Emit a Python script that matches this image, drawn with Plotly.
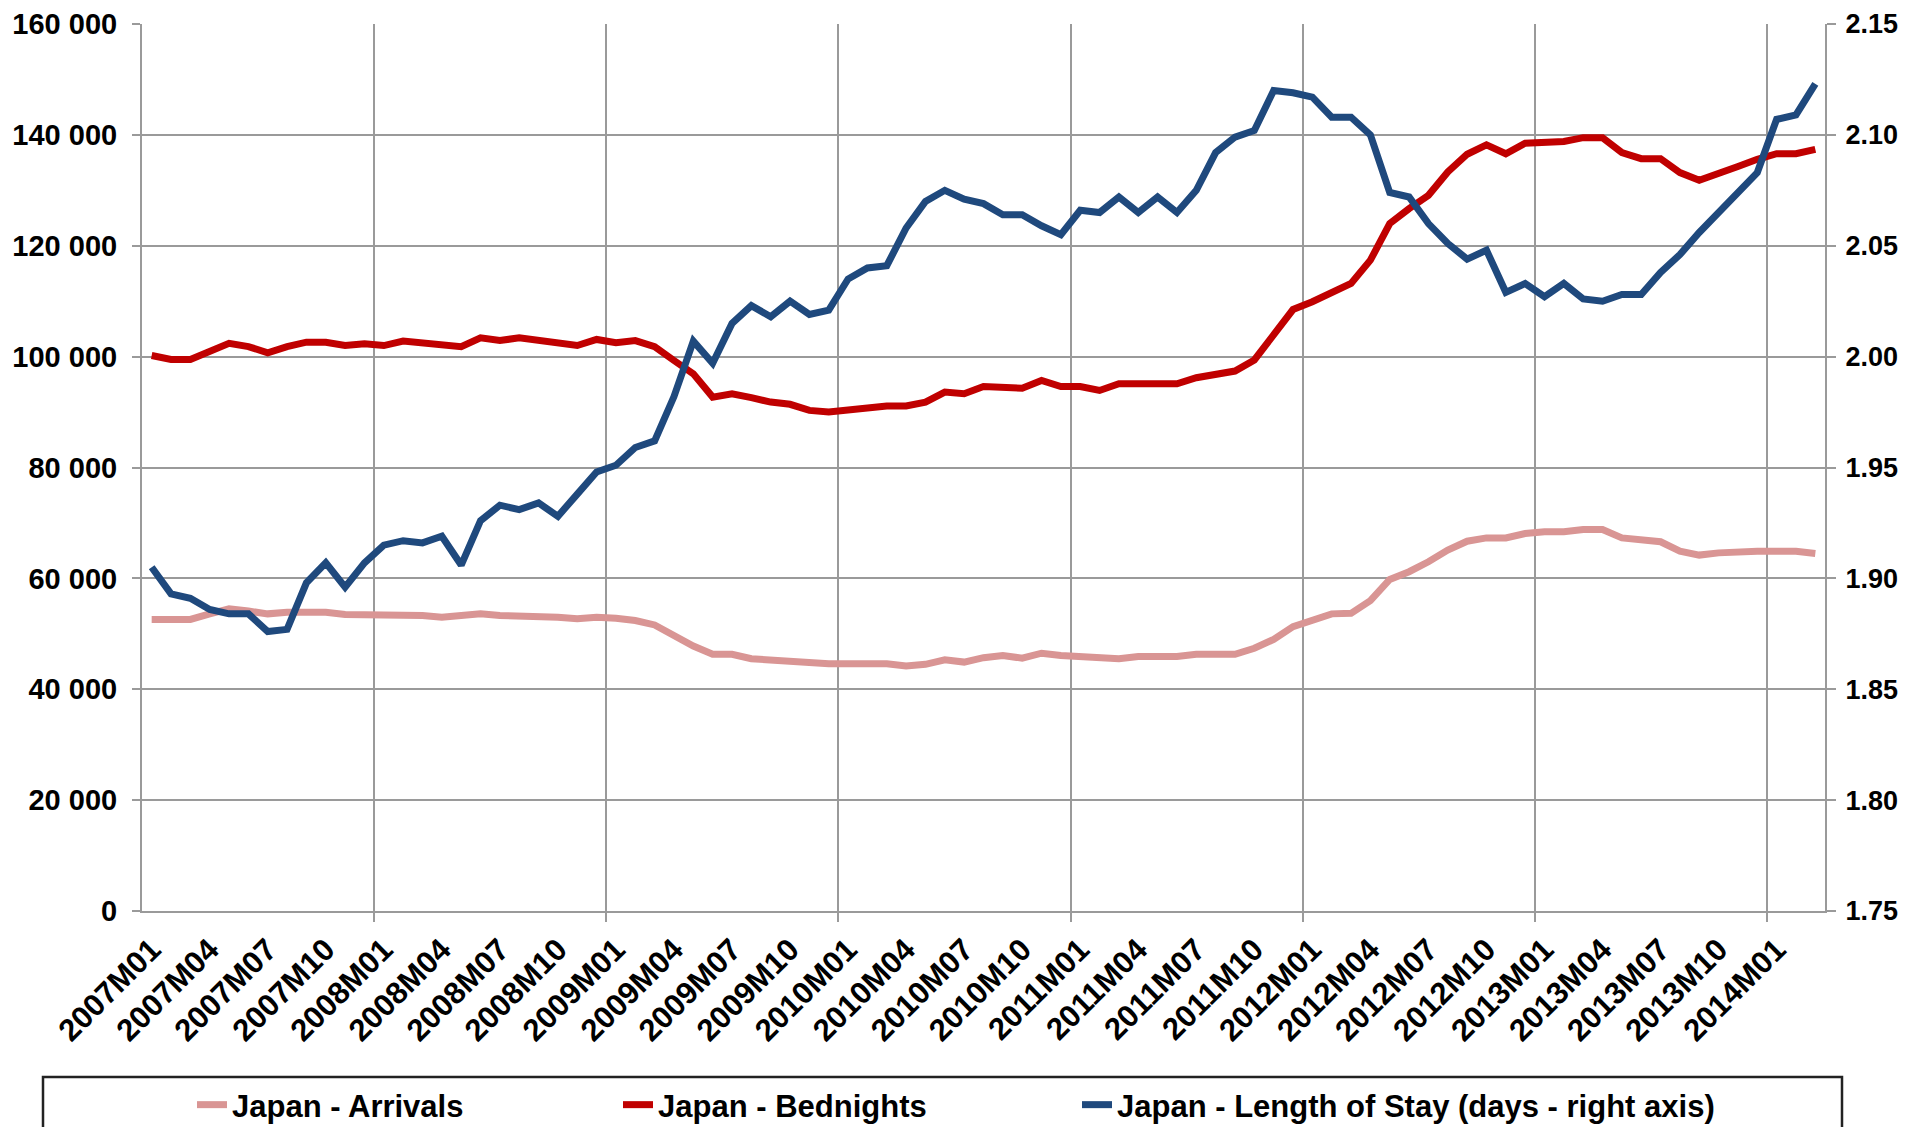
import plotly.graph_objects as go

# ---- data -------------------------------------------------------------
months = [f"{y}M{m:02d}" for y in range(2007, 2015) for m in range(1, 13)][:87]  # 2007M01 .. 2014M03

arrivals = [
    52600, 52600, 52600, 53600, 54500, 54100, 53600, 53900, 54000, 53900, 53500, 53500,
    53400, 53300, 53300, 53000, 53300, 53600, 53300, 53300, 53300, 53000, 52700, 53000,
    52800, 52400, 51600, 49600, 47800, 46300, 46300, 45500, 45200, 45200, 44900, 44600,
    44600, 44600, 44600, 44200, 44500, 45300, 44900, 45700, 46100, 45600, 46500, 46100,
    45900, 45500, 45500, 45900, 45900, 45900, 46300, 46300, 46300, 47400, 49000, 51300,
    52400, 53600, 53700, 56000, 59800, 61200, 63000, 65100, 66700, 67300, 67300, 68100,
    68400, 68400, 68800, 68800, 67300, 67000, 66600, 64900, 64200, 64600, 64900, 64900,
    64900, 64900, 64500,
]

bednights = [
    100200, 99500, 99500, 101000, 102400, 101800, 100700, 101800, 102600, 102600, 102000, 102300,
    102000, 102800, 102500, 102200, 101800, 103400, 102900, 103400, 102900, 102300, 102000, 103100,
    102500, 102900, 101800, 99300, 96900, 92700, 93300, 92600, 91800, 91400, 90300, 90000,
    90400, 90800, 91100, 91100, 91800, 93600, 93300, 94600, 94600, 94300, 95700, 94600,
    94600, 93900, 95100, 95100, 95400, 95100, 96200, 96800, 97400, 99400, 104100, 108500,
    109900, 111400, 113200, 117400, 124000, 126700, 129100, 133300, 136500, 138200, 136600, 138500,
    138500, 138800, 139500, 139500, 136800, 135700, 135700, 133200, 131800, 133200, 134300, 135600,
    136600, 136600, 137400,
]

length_of_stay = [
    1.905, 1.893, 1.891, 1.886, 1.884, 1.884, 1.876, 1.877, 1.898, 1.907, 1.896, 1.907,
    1.915, 1.917, 1.916, 1.919, 1.906, 1.926, 1.933, 1.931, 1.934, 1.928, 1.938, 1.948,
    1.951, 1.959, 1.962, 1.982, 2.007, 1.997, 2.015, 2.023, 2.018, 2.025, 2.019, 2.021,
    2.035, 2.040, 2.041, 2.058, 2.070, 2.075, 2.071, 2.069, 2.064, 2.064, 2.059, 2.055,
    2.066, 2.065, 2.072, 2.065, 2.072, 2.065, 2.075, 2.092, 2.099, 2.102, 2.120, 2.119,
    2.117, 2.108, 2.108, 2.100, 2.074, 2.072, 2.060, 2.051, 2.044, 2.048, 2.029, 2.033,
    2.027, 2.033, 2.026, 2.025, 2.028, 2.028, 2.038, 2.046, 2.056, 2.065, 2.074, 2.083,
    2.107, 2.109, 2.123,
]

series_names = ["Japan - Arrivals", "Japan - Bednights", "Japan - Length of Stay (days - right axis)"]
tick_labels = months[::3]
left_ticks = [0, 20000, 40000, 60000, 80000, 100000, 120000, 140000, 160000]
right_ticks = [1.75, 1.80, 1.85, 1.90, 1.95, 2.00, 2.05, 2.10, 2.15]

# ---- figure -----------------------------------------------------------
x = list(range(len(months)))
GRID = "#9a9a9a"
FONT = "Liberation Sans, Arial, sans-serif"

fig = go.Figure()
fig.add_trace(go.Scatter(x=x, y=arrivals, name=series_names[0], mode="lines",
                         line=dict(color="#D99594", width=7), text=months,
                         showlegend=True, legend="legend"))
fig.add_trace(go.Scatter(x=x, y=bednights, name=series_names[1], mode="lines",
                         line=dict(color="#C00000", width=7), text=months,
                         showlegend=True, legend="legend2"))
fig.add_trace(go.Scatter(x=x, y=length_of_stay, name=series_names[2], mode="lines",
                         line=dict(color="#1F497D", width=7), text=months, yaxis="y2",
                         showlegend=True, legend="legend3"))

# page body has an 8px margin: work in page pixels, convert to figure pixels
OFF = 8
W, H = 1913 - OFF, 1127 - OFF
L = 142 - OFF
T = 24 - OFF
R = W - (1825 - OFF)
B = H - (911 - OFF)
pw, ph = W - L - R, H - T - B

def px_x(p):
    return (p - OFF - L) / pw

def px_y(p):
    return (H - B - (p - OFF)) / ph

def cx(p):
    return (p - OFF) / W

def cy(p):
    return 1 - (p - OFF) / H

legend_common = dict(orientation="h", yanchor="middle", xanchor="left",
                     xref="container", yref="container",
                     font=dict(family=FONT, size=31, color="#000000", weight="bold"),
                     bgcolor="rgba(0,0,0,0)", borderwidth=0, itemwidth=30)

fig.update_layout(
    width=W, height=H,
    margin=dict(l=L, r=R, t=T, b=B, pad=0, autoexpand=False),
    paper_bgcolor="white", plot_bgcolor="white",
    separators=". ",
    showlegend=True,
    font=dict(family=FONT, size=29, color="#000000", weight="bold"),
    xaxis=dict(
        range=[-0.5, len(months) - 0.5], automargin=False,
        tickmode="array", tickvals=x[::3], ticktext=tick_labels,
        tickangle=-45, ticks="outside", ticklen=6, tickcolor="rgba(0,0,0,0)",
        tickfont=dict(family=FONT, size=31, color="#000000", weight="bold"),
        showgrid=False, zeroline=False,
        showline=True, linecolor=GRID, linewidth=2,
        minor=dict(tickmode="array", tickvals=[11.5, 23.5, 35.5, 47.5, 59.5, 71.5, 83.5],
                   ticks="outside", ticklen=9, tickcolor=GRID, tickwidth=2,
                   showgrid=True, gridcolor=GRID, gridwidth=2),
    ),
    yaxis=dict(
        range=[0, 160000], automargin=False, tickmode="array", tickvals=left_ticks,
        tickformat=",.0f",
        ticks="outside", ticklen=8, tickcolor=GRID, tickwidth=2, ticklabelstandoff=9,
        showgrid=True, gridcolor=GRID, gridwidth=2, zeroline=False,
        showline=True, linecolor=GRID, linewidth=2,
        tickfont=dict(family=FONT, size=29, color="#000000", weight="bold"),
    ),
    yaxis2=dict(
        range=[1.75, 2.15], automargin=False, tickmode="array", tickvals=right_ticks,
        tickformat=".2f",
        overlaying="y", side="right",
        ticks="outside", ticklen=9, tickcolor=GRID, tickwidth=2, ticklabelstandoff=4,
        showgrid=False, zeroline=False,
        showline=True, linecolor=GRID, linewidth=2,
        tickfont=dict(family=FONT, size=27, color="#000000", weight="bold"),
    ),
    legend=dict(legend_common, x=cx(192), y=cy(1105)),
    legend2=dict(legend_common, x=cx(618), y=cy(1105)),
    legend3=dict(legend_common, x=cx(1077), y=cy(1105)),
    shapes=[dict(type="rect", xref="paper", yref="paper",
                 x0=px_x(43), x1=px_x(1842), y0=px_y(1077), y1=px_y(1140),
                 line=dict(color="#222222", width=2.5), fillcolor="rgba(0,0,0,0)")],
)

fig.write_html("out.html")
